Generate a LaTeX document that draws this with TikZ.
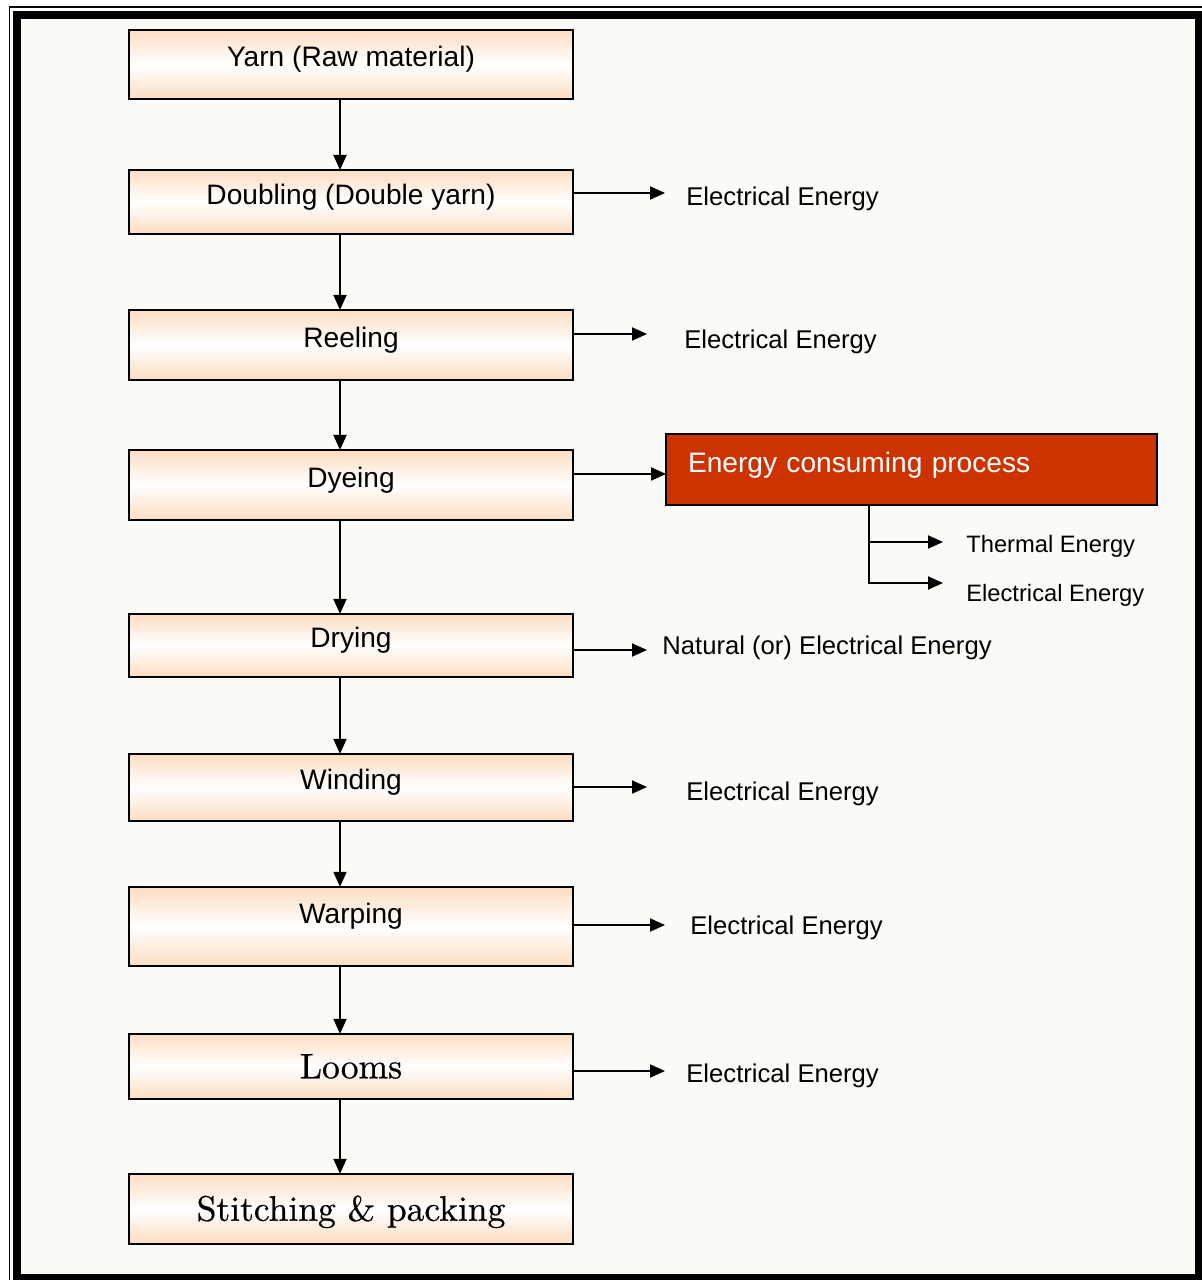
\documentclass[tikz,border=0pt]{standalone}
\usepackage{fontspec}
\setsansfont{Liberation Sans}
\newfontfamily\loomfont{lmroman10-regular.otf}[FakeBold=0.6]
\usetikzlibrary{positioning,arrows.meta}
\definecolor{peach}{RGB}{252,221,193}
\definecolor{brick}{RGB}{204,51,0}
\definecolor{paper}{RGB}{250,250,246}
\tikzset{process node/.style={rectangle,draw,line width=1.1pt,outer sep=0pt,minimum width=8.88cm,top color=peach,bottom color=peach,middle color=white,font=\fontsize{16}{19}\selectfont\sffamily,text height=0.4cm,text depth=0.3cm},
serif node/.style={process node,font=\fontsize{20.2}{24}\selectfont\loomfont,text height=0.56cm,text depth=0.08cm},
energy node/.style={inner sep=0pt,font=\fontsize{14.6}{17}\selectfont\sffamily,text height=0.44cm,text depth=0.07cm},
small energy node/.style={inner sep=0pt,font=\fontsize{13.5}{16}\selectfont\sffamily,text height=0.41cm,text depth=0.07cm},
}

\begin{document}
\begin{tikzpicture}[x=0.02cm,y=-0.02cm,>={Triangle[length=0.3cm,width=0.26cm]}]
				\useasboundingbox (0,0) rectangle (1202,1280);
				\fill[paper] (21,19) rectangle (1195,1274);
				\draw[line width=0.16cm] (17,15) rectangle (1199,1278);
				\draw[line width=0.04cm] (9.5,1280) -- (9.5,7) -- (1202,7);

				\node[process node,minimum height=1.38cm] (yarn) at (351,64.5) {Yarn (Raw material)};
				\node[process node,minimum height=1.28cm] (doubling) [below=1.42cm of yarn] {Doubling (Double yarn)};
				\node[process node,minimum height=1.40cm] (reeling) [below=1.52cm of doubling] {Reeling};
				\node[process node,minimum height=1.40cm] (dyeing) [below=1.40cm of reeling] {Dyeing};
				\node[process node,minimum height=1.26cm] (drying) [below=1.88cm of dyeing] {Drying};
				\node[process node,minimum height=1.34cm] (winding) [below=1.54cm of drying] {Winding};
				\node[process node,minimum height=1.58cm,text depth=0.52cm] (warping) [below=1.32cm of winding] {Warping};
				\node[serif node,minimum height=1.30cm] (looms) [below=1.36cm of warping] {Looms};
				\node[serif node,minimum height=1.40cm] (stitching) [below=1.50cm of looms] {Stitching \& packing};

				\node[draw,fill=brick,line width=1.1pt,outer sep=0pt,minimum height=1.42cm,text width=8.94cm,inner xsep=0.44cm,align=left,text=white,font=\fontsize{16}{19}\selectfont\sffamily,text height=0.4cm,text depth=0.3cm] (ecp) at (911.5,469.5) {Energy consuming process};

				\coordinate (t0) at ([yshift=-0.09cm]ecp.west);
				\coordinate (t1) at (665,193);
				\coordinate (t2) at (647,334);
				\coordinate (t3) at (647,650);
				\coordinate (t4) at (647,787);
				\coordinate (t5) at (665,925);
				\coordinate (t6) at (665,1071);
				\coordinate (t7) at (943,542);
				\coordinate (t8) at (943,583);
				\coordinate (br) at ([xshift=-0.85cm]ecp.south);

				\node[energy node] (e1) [right=0.42cm of t1,yshift=-0.06cm] {Electrical Energy};
				\node[energy node] (e2) [right=0.74cm of t2,yshift=-0.1cm] {Electrical Energy};
				\node[energy node] (e3) [right=0.30cm of t3,yshift=0.1cm] {Natural (or) Electrical Energy};
				\node[energy node] (e4) [right=0.78cm of t4,yshift=-0.08cm] {Electrical Energy};
				\node[energy node] (e5) [right=0.50cm of t5] {Electrical Energy};
				\node[energy node] (e6) [right=0.42cm of t6,yshift=-0.04cm] {Electrical Energy};
				\node[small energy node] (e7) [right=0.46cm of t7,yshift=-0.04cm] {Thermal Energy};
				\node[small energy node] (e8) [right=0.46cm of t8,yshift=-0.2cm] {Electrical Energy};

				\path[line width=1.1pt,->]
				([xshift=-0.22cm]yarn.south) edge ([xshift=-0.22cm]doubling.north)
				([xshift=-0.22cm]doubling.south) edge ([xshift=-0.22cm]reeling.north)
				([xshift=-0.22cm]reeling.south) edge ([xshift=-0.22cm]dyeing.north)
				([xshift=-0.22cm]dyeing.south) edge ([xshift=-0.22cm]drying.north)
				([xshift=-0.22cm]drying.south) edge ([xshift=-0.22cm]winding.north)
				([xshift=-0.22cm]winding.south) edge ([xshift=-0.22cm]warping.north)
				([xshift=-0.22cm]warping.south) edge ([xshift=-0.22cm]looms.north)
				([xshift=-0.22cm]looms.south) edge ([xshift=-0.22cm]stitching.north)
				(doubling.east |- t1) edge (t1)
				(reeling.east |- t2) edge (t2)
				(dyeing.east |- t0) edge (t0)
				(drying.east |- t3) edge (t3)
				(winding.east |- t4) edge (t4)
				(warping.east |- t5) edge (t5)
				(looms.east |- t6) edge (t6);

				\draw[line width=1.1pt,->] (br) |- (t7);
				\draw[line width=1.1pt,->] (br) |- (t8);

			\end{tikzpicture}
\end{document}
